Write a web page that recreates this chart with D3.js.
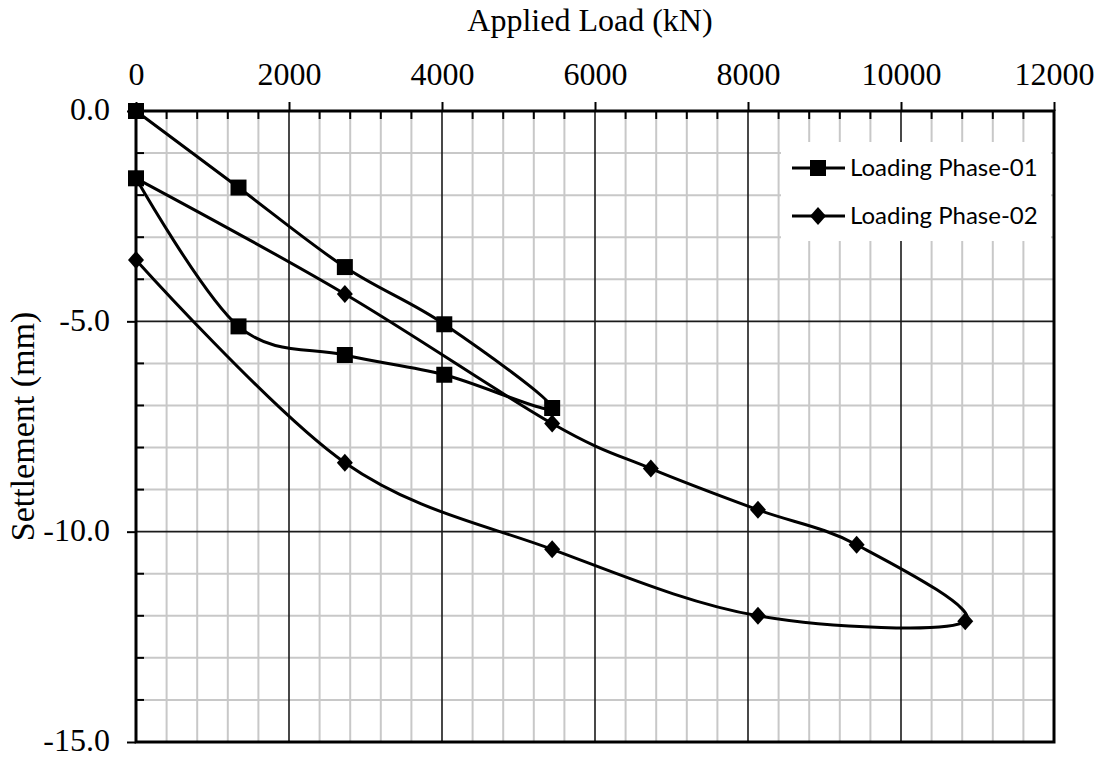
<!DOCTYPE html>
<html>
<head>
<meta charset="utf-8">
<script src="https://cdn.jsdelivr.net/npm/d3@7"></script>
<style>
  body { margin: 0; background: #fff; }
  .tick text { font-family: "Liberation Serif", "Times New Roman", serif; font-size: 32px; fill: #000; }
  .lbl { font-family: "Liberation Serif", "Times New Roman", serif; fill: #000; }
  .leg { font-family: Lato, "Open Sans", sans-serif; font-size: 24px; fill: #000; }
</style>
</head>
<body>
<div id="chart"></div>
<script>
// Applied load (kN) vs settlement (mm)
const loads1 = [0, 1340, 2730, 4030, 5440, 4030, 2730, 1340, 0];
const settle1 = [0, -1.82, -3.71, -5.07, -7.06, -6.27, -5.8, -5.12, -1.6];

const loads2 = [0, 2730, 5440, 6730, 8130, 9420, 10840, 8130, 5440, 2730, 0];
const settle2 = [-1.6, -4.35, -7.43, -8.5, -9.48, -10.31, -12.13, -12.0, -10.42, -8.36, -3.54];

const seriesNames = ['Loading Phase-01', 'Loading Phase-02'];
const xTicks = [0, 2000, 4000, 6000, 8000, 10000, 12000];
const yTicks = [0, -5, -10, -15];

const svgWidth = 1104, svgHeight = 758;
const margin = {top: 111, right: 50, bottom: 16, left: 136};
const width = svgWidth - margin.left - margin.right;
const height = svgHeight - margin.top - margin.bottom;

const svg = d3.select('#chart').append('svg')
  .attr('width', svgWidth)
  .attr('height', svgHeight);

const g = svg.append('g')
  .attr('transform', `translate(${margin.left},${margin.top})`);

const x = d3.scaleLinear().domain([0, 12000]).range([0, width]);
const y = d3.scaleLinear().domain([0, -15]).range([0, height]);

const xMinor = d3.range(0, 12001, 400).filter(v => v % 2000 !== 0);
const yMinor = d3.range(0, -15.01, -1).filter(v => v % 5 !== 0);

// minor grid
g.append('g').selectAll('line').data(xMinor).enter().append('line')
  .attr('x1', d => x(d)).attr('x2', d => x(d))
  .attr('y1', 0).attr('y2', height)
  .attr('stroke', '#c8c8c8').attr('stroke-width', 2);
g.append('g').selectAll('line').data(yMinor).enter().append('line')
  .attr('x1', 0).attr('x2', width)
  .attr('y1', d => y(d)).attr('y2', d => y(d))
  .attr('stroke', '#c8c8c8').attr('stroke-width', 2);

// major grid
g.append('g').selectAll('line').data(xTicks.slice(1, -1)).enter().append('line')
  .attr('x1', d => x(d)).attr('x2', d => x(d))
  .attr('y1', 0).attr('y2', height)
  .attr('stroke', '#1a1a1a').attr('stroke-width', 1.6);
g.append('g').selectAll('line').data(yTicks.slice(1, -1)).enter().append('line')
  .attr('x1', 0).attr('x2', width)
  .attr('y1', d => y(d)).attr('y2', d => y(d))
  .attr('stroke', '#1a1a1a').attr('stroke-width', 1.6);

// minor ticks (inside)
g.append('g').selectAll('line').data(xMinor).enter().append('line')
  .attr('x1', d => x(d)).attr('x2', d => x(d))
  .attr('y1', 0).attr('y2', 8)
  .attr('stroke', '#000').attr('stroke-width', 2);
g.append('g').selectAll('line').data(yMinor).enter().append('line')
  .attr('x1', 0).attr('x2', 8)
  .attr('y1', d => y(d)).attr('y2', d => y(d))
  .attr('stroke', '#000').attr('stroke-width', 2);

// axes with outward major ticks
const xAxis = g.append('g')
  .call(d3.axisTop(x).tickValues(xTicks).tickSizeInner(9).tickSizeOuter(0)
    .tickPadding(17).tickFormat(d3.format('d')));
const yAxis = g.append('g')
  .call(d3.axisLeft(y).tickValues(yTicks).tickSizeInner(9).tickSizeOuter(0)
    .tickPadding(17).tickFormat(d => d.toFixed(1)));
[xAxis, yAxis].forEach(a => {
  a.select('.domain').remove();
  a.selectAll('.tick line').attr('stroke', '#000').attr('stroke-width', 2);
  a.attr('font-family', null).attr('font-size', null);
});
yAxis.selectAll('.tick text').attr('dy', '0.28em');

// plot border
g.append('rect')
  .attr('x', 0).attr('y', 0)
  .attr('width', width).attr('height', height)
  .attr('fill', 'none').attr('stroke', '#000').attr('stroke-width', 3);

// legend background
g.append('rect')
  .attr('x', 645).attr('y', 31)
  .attr('width', 270).attr('height', 99)
  .attr('fill', '#fff');

const line = d3.line()
  .x(d => x(d[0]))
  .y(d => y(d[1]))
  .curve(d3.curveCardinal.tension(0));

const data1 = loads1.map((v, i) => [v, settle1[i]]);
const data2 = loads2.map((v, i) => [v, settle2[i]]);

const square = d3.symbol().type(d3.symbolSquare).size(256);
const diamond = 'M0,-9L8,0L0,9L-8,0Z';

g.append('path').datum(data1)
  .attr('d', line).attr('fill', 'none')
  .attr('stroke', '#000').attr('stroke-width', 3);
g.append('g').selectAll('path').data(data1).enter().append('path')
  .attr('d', square)
  .attr('transform', d => `translate(${x(d[0])},${y(d[1])})`)
  .attr('fill', '#000');

g.append('path').datum(data2)
  .attr('d', line).attr('fill', 'none')
  .attr('stroke', '#000').attr('stroke-width', 3);
g.append('g').selectAll('path').data(data2).enter().append('path')
  .attr('d', diamond)
  .attr('transform', d => `translate(${x(d[0])},${y(d[1])})`)
  .attr('fill', '#000');

// legend
const legend = svg.append('g').attr('transform', 'translate(792,168)');
seriesNames.forEach((name, i) => {
  const row = legend.append('g').attr('transform', `translate(0,${i * 48})`);
  row.append('line').attr('x1', 0).attr('x2', 53).attr('y1', 0).attr('y2', 0)
    .attr('stroke', '#000').attr('stroke-width', 3);
  row.append('path')
    .attr('d', i === 0 ? square() : diamond)
    .attr('transform', 'translate(26,0)')
    .attr('fill', '#000');
  row.append('text').attr('class', 'leg')
    .attr('x', 58).attr('y', 8)
    .text(name);
});

// axis titles
svg.append('text').attr('class', 'lbl')
  .attr('x', 590).attr('y', 31)
  .attr('text-anchor', 'middle')
  .style('font-size', '32px')
  .text('Applied Load (kN)');

svg.append('text').attr('class', 'lbl')
  .attr('transform', `translate(34,${margin.top + height / 2})rotate(-90)`)
  .attr('text-anchor', 'middle')
  .style('font-size', '34px')
  .text('Settlement (mm)');
</script>
</body>
</html>
